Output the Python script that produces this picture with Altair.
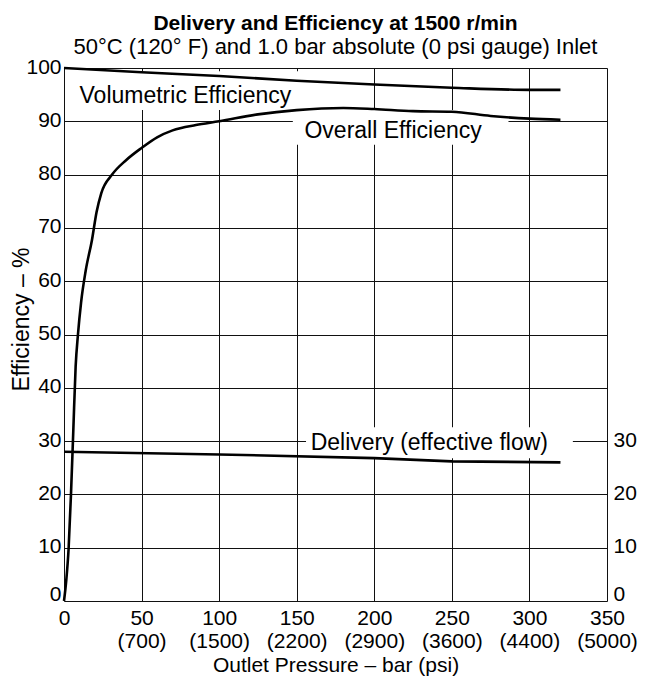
import altair as alt
import pandas as pd

# ---- data ----
vol_x = [0, 50, 100, 150, 200, 250, 300, 320]
vol_y = [100, 99.2, 98.5, 97.6, 96.9, 96.3, 95.9, 95.9]

ovr_x = [0, 1.5, 3, 4.5, 6, 7.5, 9, 11, 14, 18, 21, 24, 31, 40, 50, 60, 70, 85,
         100, 125, 150, 180, 200, 225, 250, 275, 300, 320]
ovr_y = [0, 4, 10, 20, 32, 44, 50, 56, 62, 67.7, 73, 76.5, 80, 82.7, 85, 87, 88.3, 89.3,
         90, 91.3, 92.1, 92.5, 92.3, 91.9, 91.8, 91.0, 90.5, 90.3]

del_x = [0, 100, 200, 250, 320]
del_y = [28.0, 27.5, 26.8, 26.2, 26.0]

x_ticks = [0, 50, 100, 150, 200, 250, 300, 350]
psi_labels = ["", "(700)", "(1500)", "(2200)", "(2900)", "(3600)", "(4400)", "(5000)"]
y_ticks = [0, 10, 20, 30, 40, 50, 60, 70, 80, 90, 100]
right_ticks = [0, 10, 20, 30]

label_text = ["Volumetric Efficiency", "Overall Efficiency", "Delivery (effective flow)"]
label_x = [10, 155, 159]
label_y = [94.8, 88.2, 29.6]
box_x = [7, 147.5, 156]
box_x2 = [157, 286.5, 328]
box_y = [92.1, 85.6, 26.8]
box_y2 = [99.4, 92.1, 32.6]

FONT = "Liberation Sans"
TICK_FS = 21

lines_df = pd.concat([
    pd.DataFrame({"x": vol_x, "y": vol_y, "s": "vol"}),
    pd.DataFrame({"x": ovr_x, "y": ovr_y, "s": "ovr"}),
])
del_df = pd.DataFrame({"x": del_x, "y": del_y})
lab_df = pd.DataFrame({"x": label_x, "y": label_y, "t": label_text})
box_df = pd.DataFrame({"x": box_x, "x2": box_x2, "y": box_y, "y2": box_y2})

zero_base = {"condition": {"test": "datum.value == 0", "value": "alphabetic"}, "value": "middle"}

psi_js = "[" + ",".join("'%s'" % p for p in psi_labels) + "]"
x_axis = alt.Axis(values=x_ticks, grid=True, gridColor="#111", gridWidth=1, ticks=False,
                  domain=False, labelFont=FONT, labelFontSize=TICK_FS, labelColor="black",
                  labelPadding=6, labelLineHeight=23,
                  labelExpr="[datum.label, %s[round(datum.value/50)]]" % psi_js,
                  title="Outlet Pressure – bar (psi)", titleFont=FONT, titleFontSize=21,
                  titleFontWeight="normal", titleColor="black",
                  titleY=64.5, titleBaseline="middle",
                  labelFlush=False, labelOverlap=False)
x_scale = alt.Scale(domain=[0, 350], nice=False, zero=False)
y_scale = alt.Scale(domain=[0, 100], nice=False)

def X(field="x"):
    return alt.X(field + ":Q", scale=x_scale, axis=x_axis)

left_axis = alt.Axis(values=y_ticks, grid=True, gridColor="#111", gridWidth=1, ticks=False,
                     domain=False, labelFont=FONT, labelFontSize=TICK_FS, labelColor="black",
                     labelPadding=3, labelOffset=-1, labelBaseline=zero_base,
                     title="Efficiency – %", titleFont=FONT, titleFontSize=23,
                     titleFontWeight="normal", titleColor="black",
                     titleX=-43, titleY=251, titleAlign="center", titleBaseline="middle")

boxes = alt.Chart(box_df).mark_rect(color="white").encode(
    x=X(), x2="x2:Q",
    y=alt.Y("y:Q", scale=y_scale, axis=left_axis), y2="y2:Q",
)

lines = alt.Chart(lines_df).mark_line(color="black", strokeWidth=2.6, interpolate="monotone").encode(
    x=X(), y=alt.Y("y:Q", scale=y_scale, axis=None), detail="s:N",
)

labels = alt.Chart(lab_df).mark_text(align="left", baseline="middle", font=FONT,
                                     fontSize=23, color="black").encode(
    x=X(), y=alt.Y("y:Q", scale=y_scale, axis=None), text="t:N",
)

right_axis = alt.Axis(orient="right", values=right_ticks, grid=False, ticks=False, domain=False,
                      labelFont=FONT, labelFontSize=TICK_FS, labelColor="black", labelPadding=6,
                      labelOffset=-1, labelBaseline=zero_base, title=None)
delivery = alt.Chart(del_df).mark_line(color="black", strokeWidth=2.6).encode(
    x=X(), y=alt.Y("y:Q", scale=y_scale, axis=right_axis),
)

chart = alt.layer(boxes, lines, labels, delivery).resolve_scale(y="independent").properties(
    width=543, height=533,
    autosize=alt.AutoSizeParams(type="none"),
    padding={"left": 56, "top": 60, "right": 32, "bottom": 76},
    title=alt.TitleParams(
        text="Delivery and Efficiency at 1500 r/min",
        subtitle="50°C (120° F) and 1.0 bar absolute (0 psi gauge) Inlet",
        font=FONT, fontSize=21, fontWeight="bold", color="black",
        subtitleFont=FONT, subtitleFontSize=22, subtitleColor="black",
        subtitlePadding=3, anchor="middle", offset=-2,
    ),
).configure_view(stroke="black", strokeWidth=1.8).configure(background="white")

chart.save("out.html", embed_options={"renderer": "svg", "actions": False})
